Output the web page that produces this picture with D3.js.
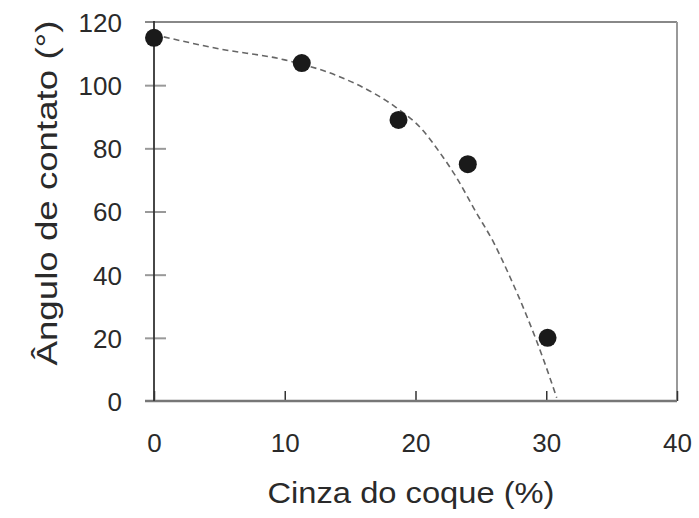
<!DOCTYPE html>
<html>
<head>
<meta charset="utf-8">
<script src="https://cdn.jsdelivr.net/npm/d3@7/dist/d3.min.js"></script>
<style>
  html, body { margin: 0; padding: 0; background: #fff; }
  text { font-family: "Liberation Sans", Arial, sans-serif; fill: #2a2a2a; }
</style>
</head>
<body>
<svg id="chart" width="699" height="518"></svg>
<script>
// Measured contact angle versus coke ash content
const ashPct = [0, 11.3, 18.7, 24.0, 30.1];
const contactAngle = [115, 107, 89, 75, 20];

// Trend curve (dashed) through the measurements
const trendAsh = [0, 5, 10, 14, 17, 18.5, 20.5, 21.8, 23.1, 24.6, 26, 27.2, 28.5, 29.8, 30.8];
const trendAngle = [116, 111.5, 108, 103, 97, 93, 86, 79, 71, 60, 50, 39.5, 27, 13, 1];

const xTicks = [0, 10, 20, 30, 40];
const yTicks = [0, 20, 40, 60, 80, 100, 120];

const xLabel = "Cinza do coque (%)";
const yLabel = "Ângulo de contato (°)";

const svg = d3.select("#chart");
const plotL = 154, plotR = 677, plotT = 22, plotB = 401;

const x = d3.scaleLinear().domain([0, 40]).range([plotL, plotR]);
const y = d3.scaleLinear().domain([0, 120]).range([plotB, plotT]);

// Frame: top and right borders in light grey
svg.append("line").attr("x1", plotL - 9).attr("x2", plotR).attr("y1", plotT).attr("y2", plotT)
  .attr("stroke", "#888").attr("stroke-width", 2);
svg.append("line").attr("x1", plotR).attr("x2", plotR).attr("y1", plotT).attr("y2", plotB)
  .attr("stroke", "#999").attr("stroke-width", 2);

// Bottom axis
const xAxis = svg.append("g").attr("transform", `translate(0,${plotB})`)
  .call(d3.axisBottom(x).tickValues(xTicks).tickSize(0).tickPadding(0).tickFormat(""));
xAxis.select(".domain").remove();
svg.append("line").attr("x1", plotL - 9).attr("x2", plotR).attr("y1", plotB).attr("y2", plotB)
  .attr("stroke", "#777").attr("stroke-width", 2.5);
xAxis.selectAll(".tick line").remove();
xAxis.selectAll(".tick").append("line")
  .attr("y1", 0).attr("y2", -10).attr("stroke", "#333").attr("stroke-width", 1.5);
xAxis.selectAll(".tick").append("text")
  .attr("y", 51).attr("text-anchor", "middle")
  .attr("font-size", 26)
  .text((d) => d);

// Left axis
const yAxis = svg.append("g").attr("transform", `translate(${plotL},0)`)
  .call(d3.axisLeft(y).tickValues(yTicks).tickSize(0).tickFormat(""));
yAxis.select(".domain").remove();
svg.append("line").attr("x1", plotL).attr("x2", plotL).attr("y1", plotT - 1).attr("y2", plotB)
  .attr("stroke", "#333").attr("stroke-width", 1.8);
yAxis.selectAll(".tick line").remove();
yAxis.selectAll(".tick").filter((d) => d > 0 && d < 120).append("line")
  .attr("x1", -9).attr("x2", 12).attr("stroke", "#999").attr("stroke-width", 2);
yAxis.selectAll(".tick").append("text")
  .attr("x", -32).attr("dy", "0.36em").attr("text-anchor", "end")
  .attr("font-size", 26)
  .text((d) => d);

// Dashed trend line
const line = d3.line().x((d) => x(d[0])).y((d) => y(d[1])).curve(d3.curveMonotoneX);
svg.append("path")
  .datum(trendAsh.map((a, i) => [a, trendAngle[i]]))
  .attr("d", line)
  .attr("fill", "none").attr("stroke", "#666").attr("stroke-width", 1.6)
  .attr("stroke-dasharray", "6,4");

// Data points
svg.append("g").selectAll("circle")
  .data(ashPct.map((a, i) => [a, contactAngle[i]]))
  .join("circle")
  .attr("cx", (d) => x(d[0])).attr("cy", (d) => y(d[1]))
  .attr("r", 9).attr("fill", "#1a1a1a");

// Axis titles
svg.append("text").attr("x", 411).attr("y", 503).attr("text-anchor", "middle")
  .attr("font-size", 29).attr("textLength", 287).attr("lengthAdjust", "spacingAndGlyphs")
  .text(xLabel);
svg.append("text")
  .attr("transform", "translate(57,193) rotate(-90)")
  .attr("text-anchor", "middle").attr("font-size", 29)
  .attr("textLength", 345).attr("lengthAdjust", "spacingAndGlyphs")
  .text(yLabel);
</script>
</body>
</html>
